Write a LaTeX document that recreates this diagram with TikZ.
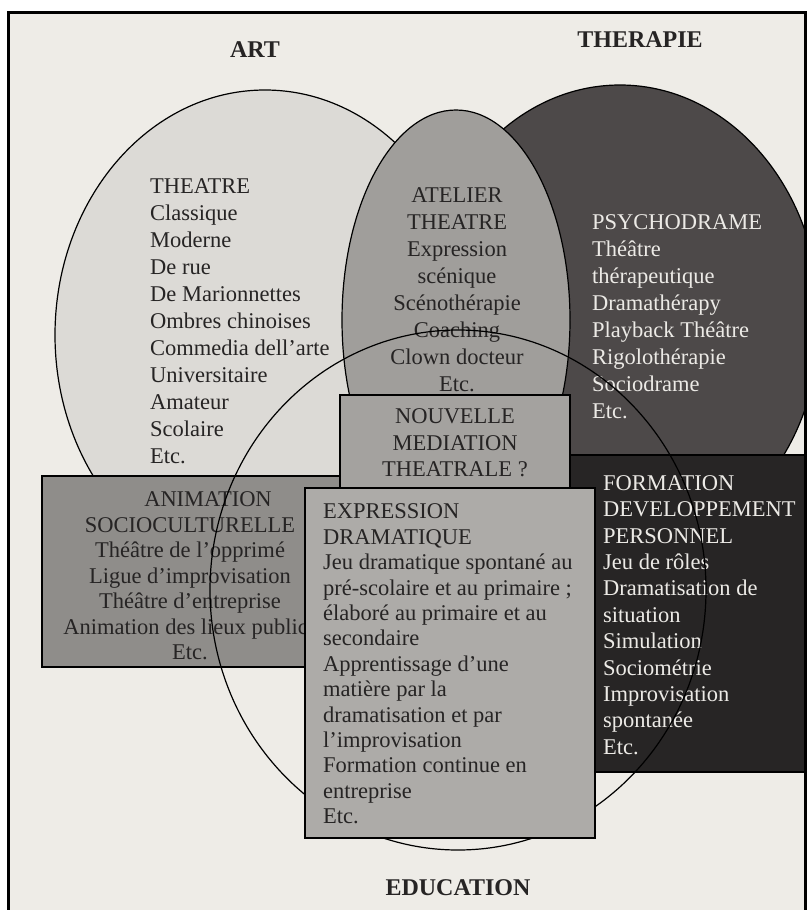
\documentclass[tikz,border=0pt]{standalone}
\usepackage{fontspec}
\setmainfont{Liberation Serif}
\usepackage{xcolor}

\definecolor{paper}{HTML}{EEECE7}
\definecolor{artgray}{HTML}{DCDAD6}
\definecolor{ateliergray}{HTML}{A09E9B}
\definecolor{therapygray}{HTML}{4D4949}
\definecolor{animgray}{HTML}{8F8D8A}
\definecolor{mediagray}{HTML}{A4A29F}
\definecolor{exprgray}{HTML}{ADABA8}
\definecolor{formgray}{HTML}{272525}
\definecolor{ink}{HTML}{262424}
\definecolor{chalk}{HTML}{ECEAE6}

\tikzset{
  zone/.style={draw=black, line width=1.2pt},
  blocktext/.style={inner sep=0pt, text=ink, font=\fontsize{22.5}{27}\selectfont},
  heading/.style={inner sep=0pt, text=ink, font=\fontsize{24}{28}\selectfont\bfseries},
}

\begin{document}
\begin{tikzpicture}[x=1pt, y=-1pt]
    \useasboundingbox (0,0) rectangle (808,910);
    \fill[white] (0,0) rectangle (808,910);
    \begin{scope}
        \clip (8,12) rectangle (805,920);
        \fill[paper] (8,12) rectangle (805,920);

        % Art
        \filldraw[zone, fill=artgray] (265,335) ellipse [x radius=210pt, y radius=245pt];
        \node[blocktext, anchor=west, align=left] (theatre) at (150,321)
            {THEATRE\\Classique\\Moderne\\De rue\\De Marionnettes\\Ombres chinoises\\Commedia dell'arte\\Universitaire\\Amateur\\Scolaire\\Etc.};

        % Therapie
        \filldraw[zone, fill=therapygray] (620,320) ellipse [x radius=200pt, y radius=235pt];
        \node[blocktext, text=chalk, anchor=west, align=left] (psycho) at (592,317)
            {PSYCHODRAME\\Théâtre\\thérapeutique\\Dramathérapy\\Playback Théâtre\\Rigolothérapie\\Sociodrame\\Etc.};

        % Atelier
        \filldraw[zone, fill=ateliergray] (456,320) ellipse [x radius=114pt, y radius=210pt];
        \node[blocktext, align=center] (atelier) at (457,290)
            {ATELIER\\THEATRE\\Expression\\scénique\\Scénothérapie\\Coaching\\Clown docteur\\Etc.};

        % Animation
        \filldraw[zone, fill=animgray] (42,476) rectangle (350,667);
        \node[blocktext, align=center, font=\fontsize{22.5}{25.5}\selectfont] (anim) at (190,576)
            {\hspace*{1.6em}ANIMATION\\SOCIOCULTURELLE\\Théâtre de l'opprimé\\Ligue d'improvisation\\Théâtre d'entreprise\\Animation des lieux publics\\Etc.};

        % Formation
        \filldraw[zone, fill=formgray] (560,455) rectangle (815,772);
        \node[blocktext, text=chalk, anchor=west, align=left, font=\fontsize{22.5}{26.4}\selectfont] (form) at (603,615)
            {FORMATION\\DEVELOPPEMENT\\PERSONNEL\\Jeu de rôles\\Dramatisation de\\situation\\Simulation\\Sociométrie\\Improvisation\\spontanée\\Etc.};

        % Education
        \draw[zone] (458,590) ellipse [x radius=248pt, y radius=260pt];

        % Nouvelle mediation
        \filldraw[zone, fill=mediagray] (340,395) rectangle (570,500);
        \node[blocktext, align=center, font=\fontsize{22.5}{26.5}\selectfont] (media) at (455,443)
            {NOUVELLE\\MEDIATION\\THEATRALE~?};

        % Expression
        \filldraw[zone, fill=exprgray] (305,488) rectangle (595,838);
        \node[blocktext, anchor=west, align=left, font=\fontsize{22.5}{25.4}\selectfont] (expr) at (323,664)
            {EXPRESSION\\DRAMATIQUE\\Jeu dramatique spontané au\\pré-scolaire et au primaire ;\\élaboré au primaire et au\\secondaire\\Apprentissage d'une\\matière par la\\dramatisation et par\\l'improvisation\\Formation continue en\\entreprise\\Etc.};

        % Titles
        \node[heading] (art) at (255,50) {ART};
        \node[heading] (therapie) at (640,40) {THERAPIE};
        \node[heading] (education) at (458,888) {EDUCATION};
    \end{scope}
    \draw[line width=3pt] (8,920) -- (8,12) -- (805,12) -- (805,920);
\end{tikzpicture}
\end{document}
